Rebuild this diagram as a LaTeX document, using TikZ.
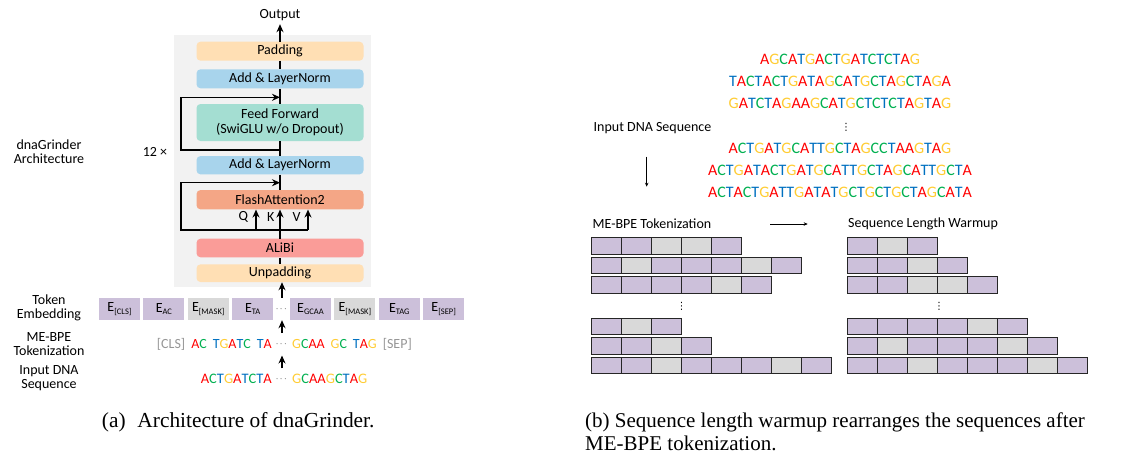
\documentclass[tikz,border=0pt]{standalone}
\usepackage{amsmath}
\usepackage{fontspec}
\setmainfont{Carlito}
\newfontfamily\capfont{Liberation Serif}
\newfontfamily\symfont{DejaVu Sans}
\usetikzlibrary{arrows.meta,positioning}

\definecolor{baseA}{RGB}{255,0,0}
\definecolor{baseC}{RGB}{0,176,80}
\definecolor{baseG}{RGB}{255,204,51}
\definecolor{baseT}{RGB}{0,112,192}
\definecolor{bgGray}{RGB}{242,242,242}
\definecolor{padOrange}{RGB}{255,223,180}
\definecolor{normBlue}{RGB}{168,212,236}
\definecolor{ffTeal}{RGB}{164,222,210}
\definecolor{attnSalmon}{RGB}{244,166,134}
\definecolor{alibiRed}{RGB}{250,156,152}
\definecolor{fillP}{RGB}{204,192,218}
\definecolor{fillG}{RGB}{217,217,217}
\definecolor{specGray}{RGB}{150,150,150}

% colour every base of a DNA string
\newcommand\dnaseq[1]{\expandafter\dnaloop#1\relax}
\def\dnaloop#1{\ifx#1\relax\else\dnaletter#1\expandafter\dnaloop\fi}
\def\dnaletter#1{\if#1A\textcolor{baseA}{A}\else\if#1C\textcolor{baseC}{C}\else\if#1G\textcolor{baseG}{G}\else\textcolor{baseT}{T}\fi\fi\fi}

\newcommand\lblsize{\fontsize{14}{14}\selectfont}
\newcommand\seqsize{\fontsize{16}{16}\selectfont}
\newcommand\capsize{\capfont\fontsize{21.4}{23.4}\selectfont}
\newcommand\capbsize{\capfont\fontsize{21}{23.4}\selectfont}
\newcommand\embtok[1]{E\raisebox{-2.5pt}{\fontsize{8.5}{8.5}\selectfont#1}}
\newcommand\tsp{\hspace{6pt}}
\newcommand\middots{{\fontsize{9}{9}\selectfont$\cdots$}}
\newcommand\smallvdots{{\symfont\fontsize{10}{10}\selectfont ⋮}}

\begin{document}
\begin{tikzpicture}
[
    x=1pt, y=-1pt,
    blk/.style={rounded corners=4pt, minimum width=167pt, inner sep=0pt, font=\lblsize},
    emb/.style={minimum width=41pt, minimum height=22pt, inner sep=0pt, font=\lblsize, fill=fillP},
    side/.style={font=\lblsize, align=center, inner sep=1pt},
    cell/.style={draw=black!85, line width=0.9pt, minimum width=30pt, minimum height=16.5pt, inner sep=0pt},
    arr/.style={-{Stealth[length=8pt,width=7pt]}, line width=1.2pt},
    thinarr/.style={-{Stealth[length=4pt,width=3.5pt]}, line width=0.7pt},
]
\useasboundingbox (0,0) rectangle (1121,467);

% (a) architecture
\node [fill=bgGray, minimum width=197pt, minimum height=252pt, inner sep=0pt] (stack) at (272.5,161) {};
\node [font=\lblsize] (out) at (280,15) {Output};
\node [blk, fill=padOrange, minimum height=19pt] (pad) at (280,51.2) {Padding};
\node [blk, fill=normBlue, minimum height=19pt] (an1) at (280,78.8) {Add \& LayerNorm};
\node [blk, fill=ffTeal, minimum height=37pt, align=center, font=\fontsize{14}{15}\selectfont] (ff) at (280,122.5) {Feed Forward\\(SwiGLU w/o Dropout)};
\node [blk, fill=normBlue, minimum height=18.3pt] (an2) at (280,165.2) {Add \& LayerNorm};
\node [blk, fill=attnSalmon, minimum height=19.3pt] (attn) at (280,199.7) {FlashAttention2};
\node [blk, fill=alibiRed, minimum height=18.6pt] (alibi) at (280,248) {ALiBi};
\node [blk, fill=padOrange, minimum height=17.7pt] (unpad) at (280,273.2) {Unpadding};
\node [font=\lblsize] (q) at (243.3,216.7) {Q};
\node [font=\lblsize] (k) at (270.7,216.7) {K};
\node [font=\lblsize] (v) at (296.7,216.7) {V};
\node [font=\lblsize] (times) at (155,151.7) {12 ×};
\node [side] (arch) at (49,151.7) {dnaGrinder\\Architecture};

\draw [arr] (pad.north) -- (out.south);
\draw [line width=1.2pt] (pad.south) -- (an1.north);
\draw [line width=1.2pt] (an1.south) -- (ff.north);
\draw [line width=1.2pt] (ff.south) -- (an2.north);
\draw [line width=1.2pt] (an2.south) -- (attn.north);
\draw [line width=1.2pt] (unpad.north) -- (alibi.south);
\draw [arr] (alibi.north) -- (attn.south);

% residual paths
\coordinate (ffskip) at (280,150);
\coordinate (ffleft) at (181,150);
\coordinate (ffjoin) at (280,97.3);
\draw [arr] (ffskip) -- (ffleft) |- (ffjoin);
\coordinate (attnskip) at (280,230);
\coordinate (attnleft) at (181,230);
\coordinate (attnjoin) at (280,182.7);
\coordinate (qin) at (256,230);
\coordinate (vin) at (308,230);
\draw [arr] (attnskip) -- (attnleft) |- (attnjoin);
\draw [line width=1.2pt] (attnskip) -- (vin);
\draw [arr] (qin) -- (qin |- attn.south);
\draw [arr] (vin) -- (vin |- attn.south);

% token embeddings
\node [emb] (tcls) at (119.5,309) {\embtok{[CLS]}};
\node [emb, right=3pt of tcls] (tac) {\embtok{AC}};
\node [emb, fill=fillG, right=3pt of tac] (tmask1) {\embtok{[MASK]}};
\node [emb, right=3pt of tmask1] (tta) {\embtok{TA}};
\node [minimum height=22pt, inner sep=0pt] (tdots) at (282,309) {\middots};
\node [emb] (tgcaa) at (310.5,309) {\embtok{GCAA}};
\node [emb, fill=fillG, right=3pt of tgcaa] (tmask2) {\embtok{[MASK]}};
\node [emb, right=3pt of tmask2] (ttag) {\embtok{TAG}};
\node [emb, right=3pt of ttag] (tsep) {\embtok{[SEP]}};

\node [font=\lblsize, anchor=east, inner sep=1pt] (tokl) at (273,344.3) {\textcolor{specGray}{[CLS]}\tsp\dnaseq{AC}\tsp\dnaseq{TGATC}\tsp\dnaseq{TA}};
\node [minimum height=22pt, inner sep=0pt] (tokdots) at (282,344.3) {\middots};
\node [font=\lblsize, anchor=west, inner sep=1pt] (tokr) at (291,344.3) {\dnaseq{GCAA}\tsp\dnaseq{GC}\tsp\dnaseq{TAG}\tsp\textcolor{specGray}{[SEP]}};

\node [font=\fontsize{14.5}{14.5}\selectfont, anchor=east, inner sep=1pt] (dnal) at (273,379) {\dnaseq{ACTGATCTA}};
\node [minimum height=21pt, inner sep=0pt] (dnadots) at (282,379) {\middots};
\node [font=\fontsize{14.5}{14.5}\selectfont, anchor=west, inner sep=1pt] (dnar) at (291,379) {\dnaseq{GCAAGCTAG}};

\node [side] (lemb) at (49,308.3) {Token\\Embedding};
\node [side] (ltok) at (49,343.7) {ME-BPE\\Tokenization};
\node [side] (lin) at (49,378.2) {Input DNA\\Sequence};

\draw [arr] (tdots.north) -- (tdots.north |- unpad.south);
\draw [arr] (tokdots.north) -- (tdots.south);
\draw [arr] (dnadots.north) -- (tokdots.south);

\node [font=\capsize, anchor=base west, inner sep=0pt] (capa) at (101.7,427) {(a)\hspace{0.55em}Architecture of dnaGrinder.};

% (b) sequence length warmup
\foreach \y/\s [count=\k] in {59.3/AGCATGACTGATCTCTAG, 81.5/TACTACTGATAGCATGCTAGCTAGA, 103.5/GATCTAGAAGCATGCTCTCTAGTAG,
    148.5/ACTGATGCATTGCTAGCCTAAGTAG, 170.7/ACTGATACTGATGCATTGCTAGCATTGCTA, 192.7/ACTACTGATTGATATGCTGCTGCTAGCATA}
    \node [font=\seqsize, inner sep=0pt] (seq\k) at (840,\y) {\dnaseq{\s}};
\node [inner sep=0pt] (seqdots) at (846,127.7) {\smallvdots};
\node [side, anchor=west] (inlabel) at (592.5,127.7) {Input DNA Sequence};
\coordinate (downtop) at (646.7,156.7);
\coordinate (downbot) at (646.7,186.7);
\draw [thinarr] (downtop) -- (downbot);

\node [side, anchor=west] (mebpe) at (591.5,224) {ME-BPE Tokenization};
\node [side, anchor=west] (warm) at (847,224) {Sequence Length Warmup};
\coordinate (rtail) at (770,224);
\coordinate (rhead) at (807.7,224);
\draw [thinarr] (rtail) -- (rhead);

\foreach \cells [count=\r] in {{P,P,G,G,P},{P,G,P,P,P,G,P},{P,P,P,P,G,P},{P,G,P},{P,P,G,P},{P,P,G,P,P,P,G,P}}{
    \pgfmathsetmacro\yy{246+(\r-1)*19.5+(\r>3)*22}
    \foreach \c [count=\i] in \cells
        \node [cell, fill=fill\c] (me-\r-\i) at (576.5+\i*30,\yy) {};
}
\foreach \cells [count=\r] in {{P,G,P},{P,P,G,P},{P,P,G,G,P},{P,P,P,P,G,P},{P,G,P,P,P,G,P},{P,P,G,P,P,P,G,P}}{
    \pgfmathsetmacro\yy{246+(\r-1)*19.5+(\r>3)*22}
    \foreach \c [count=\i] in \cells
        \node [cell, fill=fill\c] (wu-\r-\i) at (832.7+\i*30,\yy) {};
}
\node [inner sep=0pt] (medots) at (681.7,306.7) {\smallvdots};
\node [inner sep=0pt] (wudots) at (939,306.7) {\smallvdots};

\node [font=\capbsize, anchor=base west, inner sep=0pt] (capb1) at (585,427) {(b) Sequence length warmup rearranges the sequences after};
\node [font=\capbsize, anchor=base west, inner sep=0pt] (capb2) at (585,450.3) {ME-BPE tokenization.};
\end{tikzpicture}
\end{document}
